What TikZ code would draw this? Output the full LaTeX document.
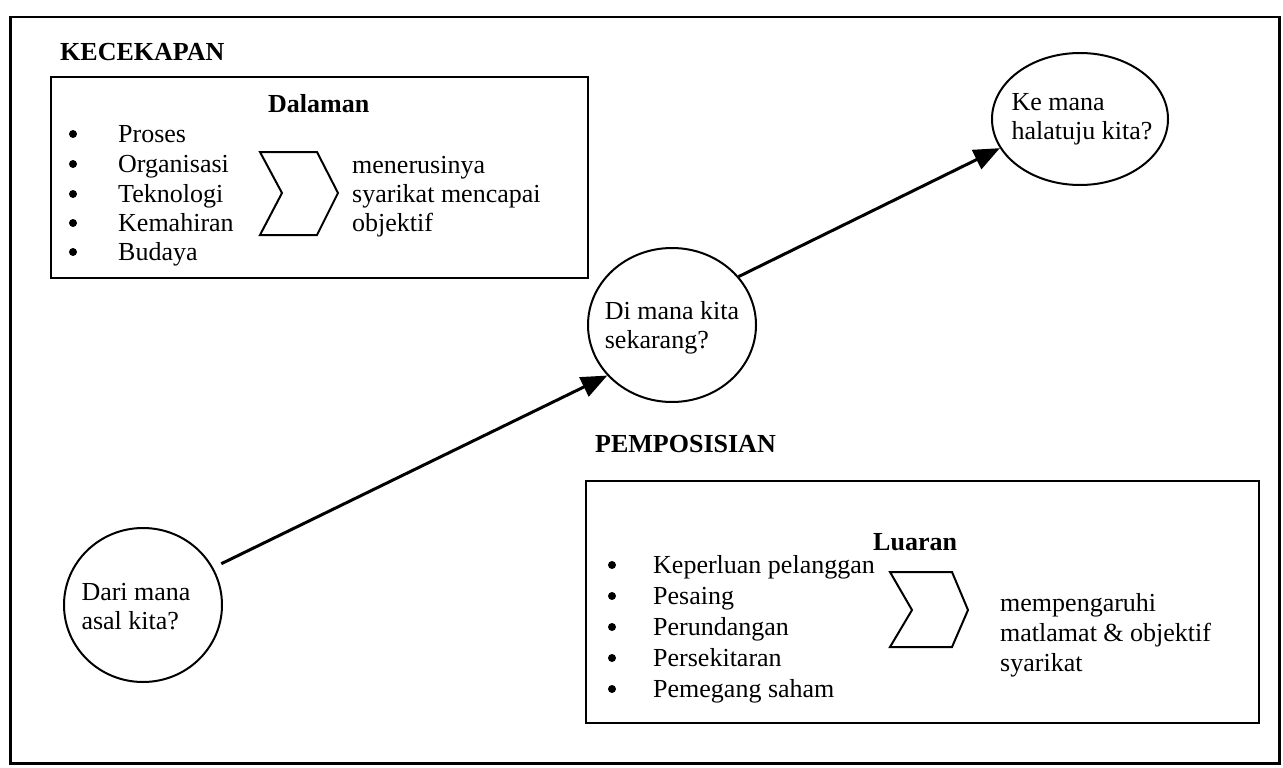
\documentclass[tikz,border=0pt]{standalone}
\usepackage{fontspec}
\setmainfont{Liberation Serif}
\usetikzlibrary{shapes.geometric,arrows.meta}

\tikzset{
  txt/.style={inner sep=0pt, anchor=base west, font=\fontsize{26}{29}\selectfont},
  head/.style={txt, font=\fontsize{26}{29}\selectfont\bfseries},
  panel/.style={draw, line width=2pt, anchor=north west, inner sep=0pt},
  place/.style={draw, ellipse, line width=2pt, inner sep=0pt},
  bullet/.style={circle, fill, inner sep=0pt, minimum size=8pt},
  flow/.style={line width=3pt, -{Triangle[length=26pt,width=21pt]}},
  chev/.style={line width=2pt, line join=miter}
}

\begin{document}
\begin{tikzpicture}[x=1pt,y=-1pt]
\useasboundingbox (0,0) rectangle (1283,768);

% outer frame
\node[panel, line width=2.5pt, minimum width=1269pt, minimum height=746pt] (frame) at (9,16) {};

% ---- internal capabilities ----
\node[head] (kecekapan) at (60,60) {KECEKAPAN};
\node[panel, minimum width=537pt, minimum height=201pt] (dalaman) at (50,76) {};
\node[head] (dalamanT) at (268,112) {Dalaman};

\foreach \y/\t [count=\i] in {142/Proses, 172/Organisasi, 202/Teknologi, 231/Kemahiran, 260/Budaya}{
  \node[bullet] (db\i) at (73,\y-8) {};
  \node[txt] (di\i) at (118,\y) {\t};
}
\draw[chev] (260,152) -- (317,152) -- (338,193) -- (317,235) -- (260,235) -- (282,193) -- cycle;
\node[txt] (dr1) at (352,173) {menerusinya};
\node[txt] (dr2) at (352,202) {syarikat mencapai};
\node[txt] (dr3) at (352,231) {objektif};

% ---- external positioning ----
\node[head] (pemposisian) at (595,452) {PEMPOSISIAN};
\node[panel, minimum width=673pt, minimum height=242pt] (luaran) at (585,480) {};
\node[head] (luaranT) at (873,550) {Luaran};

\foreach \y/\t [count=\i] in {573/Keperluan pelanggan, 604/Pesaing, 635/Perundangan, 666/Persekitaran, 697/Pemegang saham}{
  \node[bullet] (lb\i) at (612,\y-8) {};
  \node[txt] (li\i) at (653,\y) {\t};
}
\draw[chev] (890,572) -- (952,572) -- (968,610) -- (952,647) -- (890,647) -- (912,610) -- cycle;
\node[txt] (lr1) at (1000,611) {mempengaruhi};
\node[txt] (lr2) at (1000,641) {matlamat \& objektif};
\node[txt] (lr3) at (1000,671) {syarikat};

% ---- journey ----
\node[place, minimum width=158pt, minimum height=154pt] (dari) at (143,605) {};
\node[txt, anchor=center, align=left] (dariT) at (136,607) {Dari mana\\asal kita?};

\node[place, minimum width=168pt, minimum height=154pt] (dimana) at (672,325) {};
\node[txt, anchor=center, align=left] (dimanaT) at (672,328) {Di mana kita\\sekarang?};

\node[place, minimum width=176pt, minimum height=132pt] (kemana) at (1080,119) {};
\node[txt, anchor=center, align=left] (kemanaT) at (1082,119) {Ke mana\\halatuju kita?};

\draw[flow, shorten <=9pt] (dari.28) -- (dimana.218);
\draw[flow] (dimana.36) -- (kemana.200);
\end{tikzpicture}
\end{document}
